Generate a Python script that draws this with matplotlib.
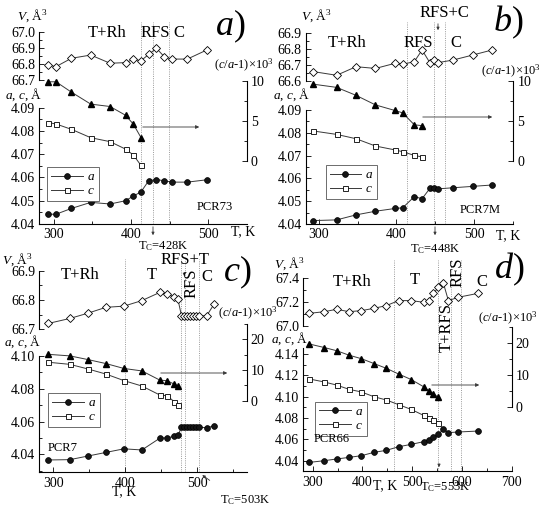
import matplotlib
matplotlib.use('Agg')
import matplotlib.pyplot as plt
from matplotlib.ticker import MultipleLocator, FormatStrFormatter

plt.rcParams['font.family'] = ['Liberation Serif', 'DejaVu Serif']
plt.rcParams['mathtext.fontset'] = 'custom'
plt.rcParams['mathtext.rm'] = 'Liberation Serif'
plt.rcParams['mathtext.it'] = 'Liberation Serif:italic'

# ---------------- datos ----------------
# a) PCR73
T_a = [293, 303, 323, 348, 373, 393, 403, 413, 423, 433, 443, 453, 473, 498]
a_a = [4.0442, 4.0442, 4.0467, 4.0493, 4.0486, 4.0500, 4.0520, 4.0538, 4.0586,
       4.0591, 4.0586, 4.0580, 4.0580, 4.0590]
c_a = [4.0836, 4.0830, 4.0807, 4.0771, 4.0754, 4.0722, 4.0697, 4.0652]
ca_a = [9.9, 9.9, 8.6, 7.1, 6.8, 5.7, 4.6, 2.9]
V_a = [66.793, 66.783, 66.835, 66.855, 66.804, 66.808, 66.828, 66.820, 66.859,
       66.897, 66.845, 66.830, 66.830, 66.886]
lim_a = [413, 428, 449]

# b) PCR7M
T_b = [293, 323, 348, 373, 398, 408, 423, 433, 443, 448, 453, 473, 498, 523]
a_b = [4.0415, 4.0418, 4.0440, 4.0456, 4.0468, 4.0471, 4.0520, 4.0511, 4.0556,
       4.0559, 4.0554, 4.0559, 4.0565, 4.0571]
c_b = [4.0808, 4.0793, 4.0774, 4.0742, 4.0725, 4.0717, 4.0701, 4.0694]
ca_b = [9.6, 9.2, 8.2, 7.0, 6.3, 6.0, 4.5, 4.4]
V_b = [66.659, 66.636, 66.690, 66.679, 66.711, 66.705, 66.722, 66.795, 66.715,
       66.732, 66.715, 66.732, 66.763, 66.795]
lim_b = [414, 448, 463]

# c) PCR7
T_c = [293, 323, 348, 373, 398, 423, 448, 458, 468, 473, 478, 482, 486, 490,
       494, 498, 503, 513, 523]
a_c = [4.0366, 4.0368, 4.0390, 4.0412, 4.0434, 4.0427, 4.0499, 4.0501, 4.0510,
       4.0516, 4.0565, 4.0565, 4.0565, 4.0565, 4.0565, 4.0565, 4.0565, 4.0563,
       4.0573]
c_c = [4.0962, 4.0949, 4.0921, 4.0890, 4.0850, 4.0817, 4.0762, 4.0758, 4.0721,
       4.0701]
ca_c = [15.1, 14.6, 13.4, 12.1, 10.5, 9.7, 6.7, 6.5, 5.4, 4.8]
V_c = [66.720, 66.737, 66.755, 66.775, 66.779, 66.798, 66.826, 66.819, 66.811,
       66.803, 66.746, 66.746, 66.746, 66.746, 66.746, 66.746, 66.746, 66.746,
       66.785]
lim_c = [400, 478, 483, 503]

# d) PCR66
T_d = [293, 323, 348, 373, 398, 423, 448, 473, 498, 523, 533, 543, 553, 563,
       573, 593, 633]
a_d = [4.0384, 4.0400, 4.0416, 4.0431, 4.0447, 4.0478, 4.0497, 4.0531, 4.0553,
       4.0578, 4.0594, 4.0619, 4.0647, 4.0697, 4.0663, 4.0669, 4.0678]
c_d = [4.1166, 4.1138, 4.1109, 4.1069, 4.1044, 4.1000, 4.0969, 4.0925, 4.0881,
       4.0825, 4.0803, 4.0781, 4.0756]
ca_d = [19.6, 18.5, 17.5, 16.1, 15.0, 13.5, 12.0, 10.2, 8.5, 6.25, 5.0, 4.0, 2.9]
V_d = [67.106, 67.120, 67.140, 67.120, 67.129, 67.148, 67.171, 67.213, 67.213,
       67.199, 67.213, 67.274, 67.324, 67.358, 67.213, 67.241, 67.274]
lim_d = [464, 553, 578, 598]

# ---------------- figura ----------------
W, H = 550, 507
fig = plt.figure(figsize=(5.5, 5.07), dpi=100)
FS = 10
LC = '#383838'


def fig_xy(px, py):
    return (px / W, 1 - py / H)


def caja(x0, x1, ytop, ybot):
    ax = fig.add_axes([x0 / W, 1 - ybot / H, (x1 - x0) / W, (ybot - ytop) / H])
    ax.patch.set_alpha(0)
    return ax


def pix(v, ref):
    (v0, p0), (v1, p1) = ref
    return p0 + (v - v0) * (p1 - p0) / (v1 - v0)


def estilo(ax, eje):
    ax.tick_params(axis=eje, which='both', direction='in', labelsize=FS,
                   width=0.6, pad=3)
    ax.tick_params(axis=eje, which='major', length=3.5)
    ax.tick_params(axis=eje, which='minor', length=2)
    for s in ax.spines.values():
        s.set_linewidth(0.8)


def flecha(p0, p1, head=5):
    fig.add_artist(matplotlib.patches.FancyArrowPatch(
        fig_xy(*p0), fig_xy(*p1), transform=fig.transFigure,
        arrowstyle='-|>', mutation_scale=head, lw=0.6, color=LC))


def texto(px, py, s, size=FS, **kw):
    fig.text(*fig_xy(px, py), s, fontsize=size, ha='center', va='center', **kw)


def panel(cfg, T, a, c, ca, V, lims):
    x0, x1 = cfg['x']
    # parametros de red
    lo, hi = cfg['lat']
    ref = cfg['lat_ref']
    ybot = pix(lo, ref)
    ytop = pix(hi, ref)
    ax = caja(x0, x1, ytop, ybot)
    ax.set_xlim(*cfg['xlim'])
    ax.set_ylim(lo, hi)
    ax.spines['top'].set_visible(False)
    ax.spines['right'].set_visible(False)
    ax.xaxis.set_major_locator(MultipleLocator(100))
    ax.xaxis.set_minor_locator(MultipleLocator(50))
    ax.yaxis.set_major_locator(MultipleLocator(cfg['lat_step']))
    ax.yaxis.set_minor_locator(MultipleLocator(cfg['lat_step'] / 2))
    ax.yaxis.set_major_formatter(FormatStrFormatter('%.2f'))
    estilo(ax, 'both')
    n = len(c)
    la, = ax.plot(T, a, '-o', color=LC, lw=0.7, ms=4.2, mfc='#151515',
                  mec='k', mew=0.5, clip_on=False, zorder=3)
    lc, = ax.plot(T[:n], c, '-s', color=LC, lw=0.7, ms=3.6, mfc='white',
                  mec='k', mew=0.6, clip_on=False, zorder=3)
    # lineas de fase, llegan hasta arriba
    frac = (ybot - cfg['vtop']) / (ybot - ytop)
    for t in lims:
        ax.axvline(t, 0, frac, color='#9a9a9a', lw=0.7, ls=(0, (1, 1.3)),
                   clip_on=False, zorder=1)
    lx, ly = fig_xy(*cfg['leg'])
    ax.legend([la, lc], ['$a$', '$c$'], loc='upper left', bbox_to_anchor=(lx, ly),
              bbox_transform=fig.transFigure, borderaxespad=0, fancybox=False,
              edgecolor='#555555', framealpha=1, fontsize=9.5, handlelength=2.4,
              handletextpad=0.3, borderpad=0.3, labelspacing=0.15)
    ax.get_legend().get_frame().set_linewidth(0.6)

    # volumen
    vlo, vhi = cfg['V']
    vref = cfg['V_ref']
    axv = caja(x0, x1, pix(vhi, vref), pix(vlo, vref))
    axv.set_xlim(*cfg['xlim'])
    axv.set_ylim(vlo, vhi)
    for s in ['top', 'right', 'bottom']:
        axv.spines[s].set_visible(False)
    axv.set_xticks([])
    axv.yaxis.set_major_locator(MultipleLocator(cfg['V_step']))
    axv.yaxis.set_minor_locator(MultipleLocator(cfg['V_step'] / 2))
    axv.yaxis.set_major_formatter(FormatStrFormatter('%.1f'))
    estilo(axv, 'y')
    axv.plot(T, V, '-D', color=LC, lw=0.7, ms=3.8, mfc='white', mec='k',
             mew=0.6, clip_on=False, zorder=3)

    # (c/a-1)x10^3, eje derecho
    rlo, rhi = cfg['R']
    rref = cfg['R_ref']
    axr = caja(x0, x1, pix(rhi, rref), pix(rlo, rref))
    axr.set_xlim(*cfg['xlim'])
    axr.set_ylim(rlo, rhi)
    for s in ['top', 'left', 'bottom']:
        axr.spines[s].set_visible(False)
    axr.set_xticks([])
    axr.yaxis.tick_right()
    axr.yaxis.set_major_locator(MultipleLocator(cfg['R_step']))
    axr.yaxis.set_minor_locator(MultipleLocator(cfg['R_step'] / 2))
    estilo(axr, 'y')
    axr.plot(T[:len(ca)], ca, '-^', color=LC, lw=0.7, ms=4.6, mfc='k', mec='k',
             clip_on=False, zorder=3)


cfg_a = dict(x=(39.3, 246.7), xlim=(281.4, 549.8),
             lat=(4.04, 4.09), lat_ref=((4.04, 224), (4.09, 107.7)), lat_step=0.01,
             V=(66.7, 67.0), V_ref=((66.7, 80), (67.0, 31.7)), V_step=0.1,
             R=(0, 10), R_ref=((0, 160.7), (10, 81)), R_step=5,
             vtop=21.7, leg=(47, 167))
cfg_b = dict(x=(305.7, 513.3), xlim=(283.2, 550.4),
             lat=(4.04, 4.09), lat_ref=((4.04, 224), (4.09, 110)), lat_step=0.01,
             V=(66.6, 66.9), V_ref=((66.6, 81), (66.9, 33.3)), V_step=0.1,
             R=(0, 10), R_ref=((0, 160.7), (10, 81)), R_step=5,
             vtop=21.7, leg=(325.7, 165))
cfg_c = dict(x=(39.3, 246.7), xlim=(280.5, 568.6),
             lat=(4.029, 4.10), lat_ref=((4.10, 356), (4.06, 421.6)), lat_step=0.02,
             V=(66.7, 66.9), V_ref=((66.7, 329.3), (66.9, 270.7)), V_step=0.1,
             R=(0, 25), R_ref=((0, 400.7), (20, 339.3)), R_step=10,
             vtop=259, leg=(48.3, 393))
cfg_d = dict(x=(303.3, 511.5), xlim=(281, 700),
             lat=(4.03, 4.146), lat_ref=((4.04, 460.7), (4.14, 354)), lat_step=0.02,
             V=(67.0, 67.4), V_ref=((67.0, 326), (67.4, 278.3)), V_step=0.2,
             R=(0, 25), R_ref=((0, 406.7), (20, 342.7)), R_step=10,
             vtop=260, leg=(315, 401.7))

panel(cfg_a, T_a, a_a, c_a, ca_a, V_a, lim_a)
panel(cfg_b, T_b, a_b, c_b, ca_b, V_b, lim_b)
panel(cfg_c, T_c, a_c, c_c, ca_c, V_c, lim_c)
panel(cfg_d, T_d, a_d, c_d, ca_d, V_d, lim_d)

# ---------------- textos ----------------
V_lab = '$V$, Å$^3$'
ac_lab = '$a$, $c$, Å'
r_lab = '($c$/$a$-1)×10$^3$'

# a)
texto(32, 16, V_lab, 9.5)
texto(24, 95, ac_lab, 9.5)
texto(107, 33, 'T+Rh', 12)
texto(155, 33, 'RFS', 12)
texto(179, 33, 'C', 12)
texto(230, 26, '$a$)', 26)
texto(244, 65, r_lab, 9)
texto(215, 207, 'PCR73', 9)
texto(243, 232, 'T, K')
texto(163, 246, 'T$_\\mathrm{C}$=428K', 9)
flecha((140, 127), (202, 127))
flecha((153, 224), (153, 238), 4)

# b)
texto(316, 16, V_lab, 9.5)
texto(292, 95, ac_lab, 9.5)
texto(347, 43, 'T+Rh', 12)
texto(418, 43, 'RFS', 12)
texto(456, 43, 'C', 12)
texto(444, 13, 'RFS+C', 12)
texto(508, 22, '$b$)', 26)
texto(511, 71, r_lab, 9)
texto(480, 210, 'PCR7M', 9)
texto(508, 236, 'T, K')
texto(435, 249, 'T$_\\mathrm{C}$=448K', 9)
flecha((420, 117), (495, 117))
flecha((435, 224), (435, 238), 4)
flecha((438, 21), (438, 33), 4)

# c)
texto(17, 260, V_lab, 9.5)
texto(23, 342, ac_lab, 9.5)
texto(80, 275, 'T+Rh', 12)
texto(152, 275, 'T', 12)
texto(185, 260, 'RFS+T', 12)
texto(192, 283, 'RFS', 12, rotation=90)
texto(207, 277, 'C', 12)
texto(237, 272, '$c$)', 26)
texto(248, 313, r_lab, 9)
texto(63, 448, 'PCR7', 9)
texto(124, 492, 'T, K')
texto(245, 500, 'T$_\\mathrm{C}$=503K', 9)
flecha((158, 373), (230, 373))
flecha((212, 482), (200, 473.5), 4)
flecha((184.3, 271), (184.3, 279), 4)

# d)
texto(289, 264, V_lab, 9.5)
texto(290, 339, ac_lab, 9.5)
texto(352, 282, 'T+Rh', 12)
texto(415, 280, 'T', 12)
texto(447, 327, 'T+RFS', 12, rotation=90)
texto(458, 272, 'RFS', 12, rotation=90)
texto(482, 282, 'C', 12)
texto(509, 269, '$d$)', 26)
texto(508, 318, r_lab, 9)
texto(332, 439, 'PCR66', 9)
texto(385, 486, 'T, K')
texto(445, 487, 'T$_\\mathrm{C}$=553K', 9)
flecha((429, 385), (482, 385))
flecha((439, 461), (439, 470), 4)

fig.savefig('out.png', dpi=100)
